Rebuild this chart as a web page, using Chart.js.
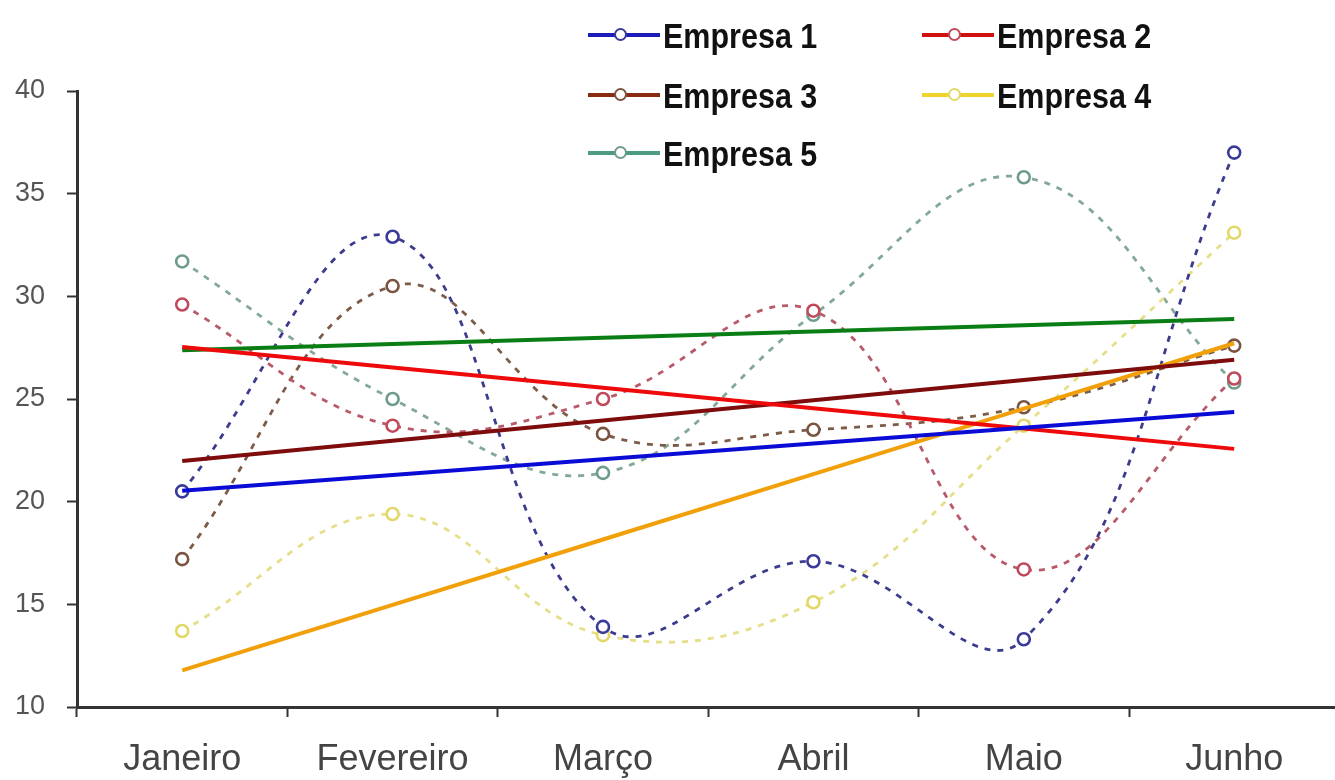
<!DOCTYPE html>
<html>
<head>
<meta charset="utf-8">
<script src="https://cdn.jsdelivr.net/npm/chart.js@4.4.0/dist/chart.umd.min.js"></script>
<style>
  html, body { margin: 0; padding: 0; background: #fff; overflow: hidden; width: 1335px; height: 780px; }
  #wrap { position: relative; width: 1348px; height: 780px; }
  #chart { position: absolute; left: 0; top: 0; }
  .item { position: absolute; height: 40px; display: flex; align-items: center; }
  .sym { position: relative; width: 75px; height: 40px; flex: none; }
  .sym .ln { position: absolute; left: 0; width: 72px; top: 18px; height: 4px; }
  .sym .mk { position: absolute; left: 26px; top: 13px; width: 9px; height: 9px; border: 2.5px solid; border-radius: 50%; background: #fff; }
  .txt { font: bold 30.5px "Liberation Sans", Arial, sans-serif; color: #111; transform: scaleY(1.15); transform-origin: left center; white-space: nowrap; }
</style>
</head>
<body>
<div id="wrap">
  <canvas id="chart" width="1348" height="780"></canvas>
  <div id="legend"></div>
</div>
<script>
// Monthly values per company
const months = ['Janeiro', 'Fevereiro', 'Março', 'Abril', 'Maio', 'Junho'];
const empresa1 = [20.5, 32.9, 13.9, 17.1, 13.3, 37.0];
const empresa2 = [29.6, 23.7, 25.0, 29.3, 16.7, 26.0];
const empresa3 = [17.2, 30.5, 23.3, 23.5, 24.6, 27.6];
const empresa4 = [13.7, 19.4, 13.5, 15.1, 23.7, 33.1];
const empresa5 = [31.7, 25.0, 21.4, 29.1, 35.8, 25.8];
const seriesNames = ['Empresa 1', 'Empresa 2', 'Empresa 3', 'Empresa 4', 'Empresa 5'];
const seriesValues = [empresa1, empresa2, empresa3, empresa4, empresa5];
const yTicks = [10, 15, 20, 25, 30, 35, 40];

// Colours: dashed series line, its markers, the linear trend line, legend swatch
const styles = [
  { line: '#3c3c8e', marker: '#3a3a9a', trend: '#0b0bd6', legend: '#1c1cb8' },
  { line: '#b85a6a', marker: '#c04a5c', trend: '#ee0a0a', legend: '#d01010' },
  { line: '#7c5c48', marker: '#7a5440', trend: '#7e0c0c', legend: '#8a2a10' },
  { line: '#e6df8a', marker: '#e2d86a', trend: '#f2a00a', legend: '#f0d42c' },
  { line: '#84a898', marker: '#6e9c8a', trend: '#0a7e14', legend: '#4e9c80' }
];

// Least-squares straight line through a series, evaluated at each month
function linearTrend(values) {
  const n = values.length;
  const xs = values.map((_, i) => i + 1);
  const mx = xs.reduce((a, b) => a + b, 0) / n;
  const my = values.reduce((a, b) => a + b, 0) / n;
  let sxy = 0, sxx = 0;
  for (let i = 0; i < n; i++) {
    sxy += (xs[i] - mx) * (values[i] - my);
    sxx += (xs[i] - mx) * (xs[i] - mx);
  }
  const slope = sxy / sxx;
  return xs.map(x => my + slope * (x - mx));
}

const datasets = [];
seriesValues.forEach((vals, i) => {
  datasets.push({
    label: seriesNames[i],
    data: vals,
    order: 1,
    borderColor: styles[i].line,
    borderWidth: 2.8,
    borderDash: [6, 7],
    tension: 0.4,
    fill: false,
    pointRadius: 6,
    pointBorderWidth: 2.6,
    pointBorderColor: styles[i].marker,
    pointBackgroundColor: '#fff'
  });
});
seriesValues.forEach((vals, i) => {
  datasets.push({
    label: seriesNames[i] + ' (tendência)',
    data: linearTrend(vals),
    order: 0,
    borderColor: styles[i].trend,
    borderWidth: 4,
    tension: 0,
    fill: false,
    pointRadius: 0
  });
});

const FONT = '"Liberation Sans", Arial, sans-serif';

new Chart(document.getElementById('chart'), {
  type: 'line',
  data: { labels: months, datasets },
  options: {
    responsive: false,
    animation: false,
    devicePixelRatio: 1,
    layout: { padding: { top: 91, right: 3, left: 0, bottom: 0 } },
    plugins: { legend: { display: false }, tooltip: { enabled: false } },
    scales: {
      x: {
        type: 'category',
        offset: true,
        grid: { display: true, drawOnChartArea: false, drawTicks: true, tickLength: 10, tickWidth: 2, tickColor: '#333', offset: true },
        border: { display: true, color: '#333', width: 3 },
        ticks: { font: { family: FONT, size: 36 }, color: '#444', padding: 21, maxRotation: 0, autoSkip: false },
        afterFit: s => { s.height = 73; }
      },
      y: {
        min: yTicks[0],
        max: yTicks[yTicks.length - 1],
        afterBuildTicks: s => { s.ticks = yTicks.map(v => ({ value: v })); },
        grid: { display: true, drawOnChartArea: false, drawTicks: true, tickLength: 10, tickWidth: 2, tickColor: '#333' },
        border: { display: true, color: '#333', width: 3 },
        ticks: { font: { family: FONT, size: 27 }, color: '#555', padding: 22 },
        afterFit: s => { s.width = 77; }
      }
    }
  }
});

// Legend: line-with-marker swatch followed by the series name, two columns
const legendCols = [588, 922];
const legendRows = [35, 95, 153];
const legend = document.getElementById('legend');
seriesNames.forEach((name, i) => {
  const item = document.createElement('div');
  item.className = 'item';
  item.style.left = legendCols[i % 2] + 'px';
  item.style.top = (legendRows[Math.floor(i / 2)] - 20) + 'px';
  const sym = document.createElement('div');
  sym.className = 'sym';
  const ln = document.createElement('div');
  ln.className = 'ln';
  ln.style.background = styles[i].legend;
  const mk = document.createElement('div');
  mk.className = 'mk';
  mk.style.borderColor = styles[i].marker;
  sym.appendChild(ln);
  sym.appendChild(mk);
  const txt = document.createElement('span');
  txt.className = 'txt';
  txt.textContent = name;
  item.appendChild(sym);
  item.appendChild(txt);
  legend.appendChild(item);
});
</script>
</body>
</html>
